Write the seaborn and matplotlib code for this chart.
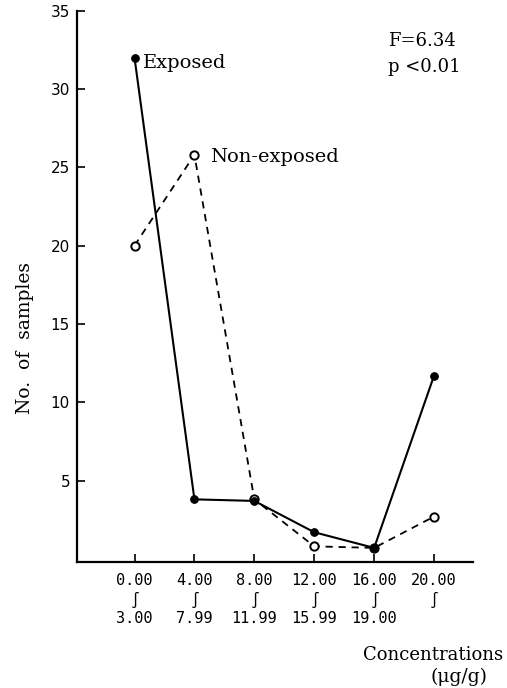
import matplotlib
matplotlib.use("Agg")
import matplotlib.pyplot as plt
import seaborn as sns
import numpy as np
import pandas as pd

# ---- data ----
categories = ["0.00\n∫\n3.00", "4.00\n∫\n7.99", "8.00\n∫\n11.99",
              "12.00\n∫\n15.99", "16.00\n∫\n19.00", "20.00\n∫\n "]
exposed = [32.0, 3.8, 3.7, 1.7, 0.7, 11.7]
non_exposed = [20.0, 25.8, 3.8, 0.8, 0.7, 2.7]
yticks = [5, 10, 15, 20, 25, 30, 35]

sns.set_style("ticks")
plt.rcParams["font.family"] = ["DejaVu Serif"]
plt.rcParams["text.color"] = "black"
plt.rcParams["axes.labelcolor"] = "black"
plt.rcParams["xtick.color"] = "black"
plt.rcParams["ytick.color"] = "black"

W, H = 507, 688
fig = plt.figure(figsize=(W / 100, H / 100), dpi=100)
ax = fig.add_axes([77 / W, 1 - 562 / H, (473 - 77) / W, (562 - 10.7) / H])

pos = np.arange(len(categories))
df_e = pd.DataFrame({"x": pos, "y": exposed})
df_n = pd.DataFrame({"x": pos, "y": non_exposed})

sns.lineplot(data=df_n, x="x", y="y", ax=ax, color="black", linewidth=1.3,
             linestyle=(0, (4, 3.2)), marker="o", markersize=6,
             markerfacecolor="white", markeredgecolor="black",
             markeredgewidth=1.4, zorder=2)
sns.lineplot(data=df_e, x="x", y="y", ax=ax, color="black", linewidth=1.5,
             marker="o", markersize=5.5, markerfacecolor="black",
             markeredgecolor="black", zorder=3)

ax.set_xlim(-0.96, 5.65)
ax.set_ylim(-0.2, 35)
ax.set_xticks(pos)
ax.set_xticklabels(categories, family="DejaVu Sans Mono", fontsize=11,
                   linespacing=1.25, color="black")
ax.set_yticks(yticks)
ax.set_yticklabels([str(v) for v in yticks], family="DejaVu Sans",
                   fontsize=11, color="black")
ax.tick_params(axis="both", direction="in", length=6, width=1.2,
               colors="black")
ax.tick_params(axis="x", pad=8)
ax.tick_params(axis="y", pad=5)
for s in ["top", "right"]:
    ax.spines[s].set_visible(False)
for s in ["left", "bottom"]:
    ax.spines[s].set_linewidth(1.6)
    ax.spines[s].set_color("black")
ax.set_xlabel("")
ax.set_ylabel("")

ax.annotate("Exposed", xy=(pos[0], exposed[0]), xytext=(6, -3.5),
            textcoords="offset points", va="center", ha="left",
            fontsize=14, color="black")
ax.annotate("Non-exposed", xy=(pos[1], non_exposed[1]), xytext=(11, -1.5),
            textcoords="offset points", va="center", ha="left",
            fontsize=14, color="black")

fig.text(388 / W, 1 - 41 / H, "F=6.34", fontsize=13, va="center", ha="left")
fig.text(388 / W, 1 - 67 / H, "p <0.01", fontsize=13, va="center", ha="left")

fig.text(25 / W, 1 - 338 / H, "No.  of  samples", rotation=90, fontsize=13.5,
         va="center", ha="center")
fig.text(503 / W, 1 - 655 / H, "Concentrations", fontsize=13,
         va="center", ha="right")
fig.text(459 / W, 1 - 677 / H, "(μg/g)", fontsize=13.5,
         va="center", ha="center")

fig.savefig("out.png", dpi=100)
